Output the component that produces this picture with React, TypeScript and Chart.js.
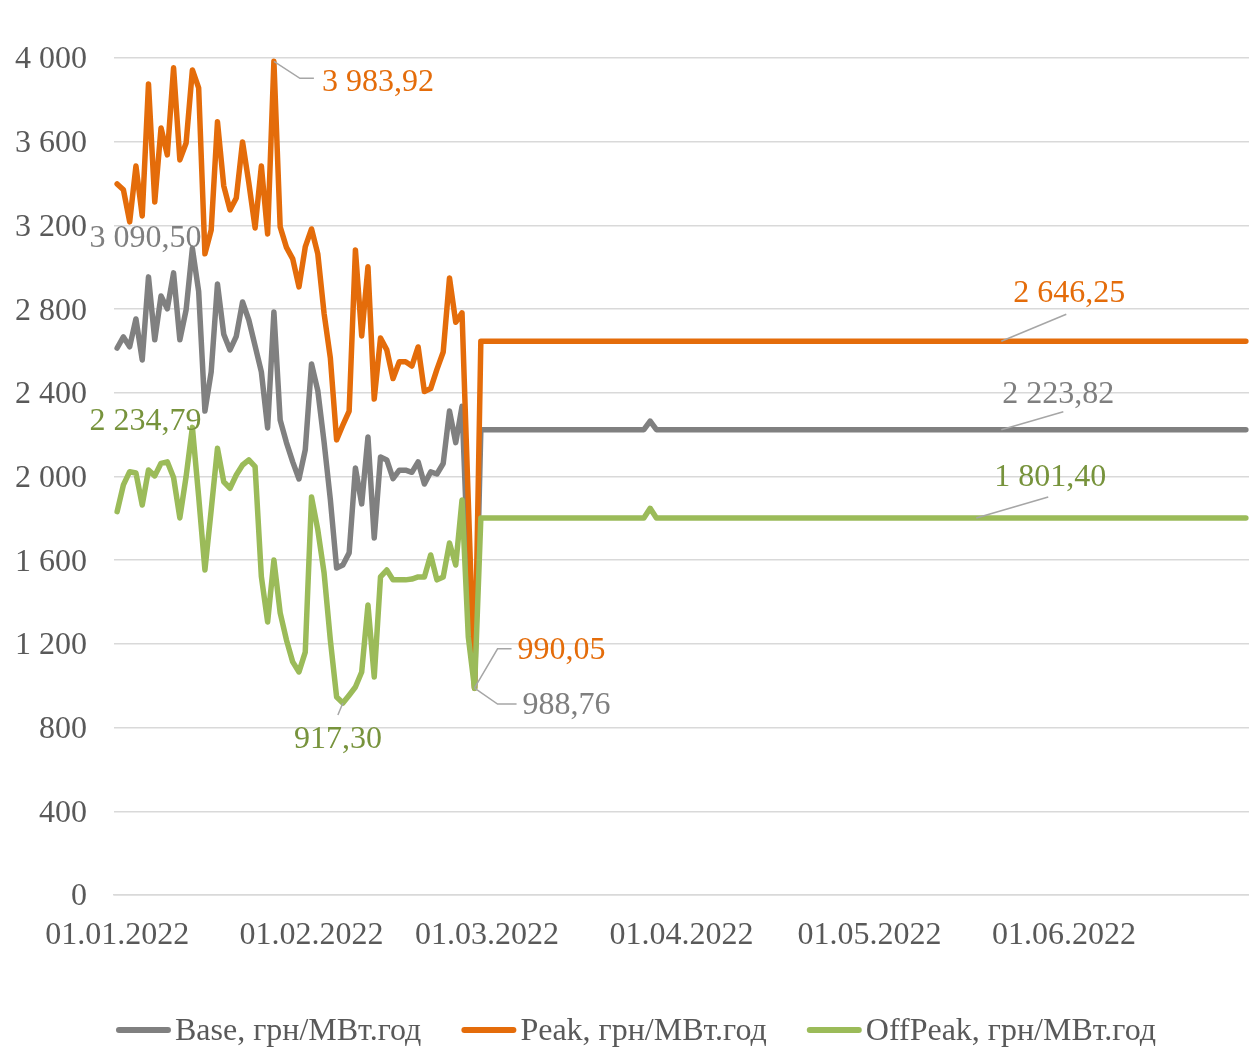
import React, { useEffect, useRef } from 'react';
import { Chart, registerables } from 'chart.js';

Chart.register(...registerables);

const FONT_FAMILY = '"Liberation Serif", "Times New Roman", Times, serif';
const FONT_SIZE = 32;

// ---- categories: one per day, 01.01.2022 .. 30.06.2022 ----
const firstDayUtc = Date.UTC(2022, 0, 1);
const dayCount = 181;
const dayLabels: string[] = [];
for (let i = 0; i < dayCount; i++) {
  const d = new Date(firstDayUtc + i * 86400000);
  dayLabels.push(
    `${String(d.getUTCDate()).padStart(2, '0')}.${String(d.getUTCMonth() + 1).padStart(2, '0')}.${d.getUTCFullYear()}`
  );
}

// ---- tick labels ----
const monthTickLabels = ['01.01.2022', '01.02.2022', '01.03.2022', '01.04.2022', '01.05.2022', '01.06.2022'];
const yTickValues = [0, 400, 800, 1200, 1600, 2000, 2400, 2800, 3200, 3600, 4000];

// ---- series: traded days (01.01 .. 27.02) ----
const baseHistory = [
  2614, 2667, 2620, 2753, 2557, 2954, 2653, 2863, 2801, 2973,
  2653, 2796, 3090.5, 2885, 2313, 2500, 2920, 2680, 2605, 2670,
  2834, 2748, 2624, 2500, 2232, 2786, 2270, 2162, 2070, 1988,
  2127, 2538, 2410, 2165, 1890, 1563, 1577, 1635, 2041, 1869,
  2189, 1706, 2093, 2079, 1990, 2030, 2030, 2020, 2070, 1964,
  2022, 2012, 2062, 2313, 2162, 2335, 1560, 988.76,
];
const peakHistory = [
  3398, 3370, 3217, 3484, 3245, 3876, 3312, 3666, 3537, 3953,
  3513, 3594, 3943, 3857, 3064, 3178, 3695, 3389, 3274, 3331,
  3599, 3403, 3188, 3484, 3159, 3983.92, 3193, 3095, 3040, 2906,
  3097, 3183, 3064, 2780, 2567, 2175, 2246, 2313, 3083, 2672,
  3002, 2370, 2662, 2605, 2468, 2548, 2548, 2528, 2619, 2406,
  2420, 2512, 2595, 2949, 2737, 2782, 1880, 990.05,
];
const offPeakHistory = [
  1832, 1960, 2023, 2017, 1864, 2031, 2003, 2063, 2070, 1995,
  1802, 2000, 2234.79, 1904, 1553, 1840, 2135, 1975, 1944, 2007,
  2055, 2079, 2047, 1521, 1305, 1601, 1348, 1219, 1114, 1066,
  1161, 1902, 1745, 1540, 1219, 946, 917.3, 955, 994, 1066,
  1386, 1042, 1520, 1553, 1506, 1506, 1506, 1510, 1520, 1520,
  1625, 1506, 1520, 1682, 1577, 1888, 1233, 987.47,
];

// ---- series: forward values (28.02 .. 30.06) ----
const baseForward = [
  2223.82, 2223.82, 2223.82, 2223.82, 2223.82, 2223.82, 2223.82, 2223.82, 2223.82, 2223.82,
  2223.82, 2223.82, 2223.82, 2223.82, 2223.82, 2223.82, 2223.82, 2223.82, 2223.82, 2223.82,
  2223.82, 2223.82, 2223.82, 2223.82, 2223.82, 2223.82, 2223.82, 2265, 2223.82, 2223.82,
  2223.82, 2223.82, 2223.82, 2223.82, 2223.82, 2223.82, 2223.82, 2223.82, 2223.82, 2223.82,
  2223.82, 2223.82, 2223.82, 2223.82, 2223.82, 2223.82, 2223.82, 2223.82, 2223.82, 2223.82,
  2223.82, 2223.82, 2223.82, 2223.82, 2223.82, 2223.82, 2223.82, 2223.82, 2223.82, 2223.82,
  2223.82, 2223.82, 2223.82, 2223.82, 2223.82, 2223.82, 2223.82, 2223.82, 2223.82, 2223.82,
  2223.82, 2223.82, 2223.82, 2223.82, 2223.82, 2223.82, 2223.82, 2223.82, 2223.82, 2223.82,
  2223.82, 2223.82, 2223.82, 2223.82, 2223.82, 2223.82, 2223.82, 2223.82, 2223.82, 2223.82,
  2223.82, 2223.82, 2223.82, 2223.82, 2223.82, 2223.82, 2223.82, 2223.82, 2223.82, 2223.82,
  2223.82, 2223.82, 2223.82, 2223.82, 2223.82, 2223.82, 2223.82, 2223.82, 2223.82, 2223.82,
  2223.82, 2223.82, 2223.82, 2223.82, 2223.82, 2223.82, 2223.82, 2223.82, 2223.82, 2223.82,
  2223.82, 2223.82, 2223.82,
];
const peakForward = [
  2646.25, 2646.25, 2646.25, 2646.25, 2646.25, 2646.25, 2646.25, 2646.25, 2646.25, 2646.25,
  2646.25, 2646.25, 2646.25, 2646.25, 2646.25, 2646.25, 2646.25, 2646.25, 2646.25, 2646.25,
  2646.25, 2646.25, 2646.25, 2646.25, 2646.25, 2646.25, 2646.25, 2646.25, 2646.25, 2646.25,
  2646.25, 2646.25, 2646.25, 2646.25, 2646.25, 2646.25, 2646.25, 2646.25, 2646.25, 2646.25,
  2646.25, 2646.25, 2646.25, 2646.25, 2646.25, 2646.25, 2646.25, 2646.25, 2646.25, 2646.25,
  2646.25, 2646.25, 2646.25, 2646.25, 2646.25, 2646.25, 2646.25, 2646.25, 2646.25, 2646.25,
  2646.25, 2646.25, 2646.25, 2646.25, 2646.25, 2646.25, 2646.25, 2646.25, 2646.25, 2646.25,
  2646.25, 2646.25, 2646.25, 2646.25, 2646.25, 2646.25, 2646.25, 2646.25, 2646.25, 2646.25,
  2646.25, 2646.25, 2646.25, 2646.25, 2646.25, 2646.25, 2646.25, 2646.25, 2646.25, 2646.25,
  2646.25, 2646.25, 2646.25, 2646.25, 2646.25, 2646.25, 2646.25, 2646.25, 2646.25, 2646.25,
  2646.25, 2646.25, 2646.25, 2646.25, 2646.25, 2646.25, 2646.25, 2646.25, 2646.25, 2646.25,
  2646.25, 2646.25, 2646.25, 2646.25, 2646.25, 2646.25, 2646.25, 2646.25, 2646.25, 2646.25,
  2646.25, 2646.25, 2646.25,
];
const offPeakForward = [
  1801.4, 1801.4, 1801.4, 1801.4, 1801.4, 1801.4, 1801.4, 1801.4, 1801.4, 1801.4,
  1801.4, 1801.4, 1801.4, 1801.4, 1801.4, 1801.4, 1801.4, 1801.4, 1801.4, 1801.4,
  1801.4, 1801.4, 1801.4, 1801.4, 1801.4, 1801.4, 1801.4, 1848, 1801.4, 1801.4,
  1801.4, 1801.4, 1801.4, 1801.4, 1801.4, 1801.4, 1801.4, 1801.4, 1801.4, 1801.4,
  1801.4, 1801.4, 1801.4, 1801.4, 1801.4, 1801.4, 1801.4, 1801.4, 1801.4, 1801.4,
  1801.4, 1801.4, 1801.4, 1801.4, 1801.4, 1801.4, 1801.4, 1801.4, 1801.4, 1801.4,
  1801.4, 1801.4, 1801.4, 1801.4, 1801.4, 1801.4, 1801.4, 1801.4, 1801.4, 1801.4,
  1801.4, 1801.4, 1801.4, 1801.4, 1801.4, 1801.4, 1801.4, 1801.4, 1801.4, 1801.4,
  1801.4, 1801.4, 1801.4, 1801.4, 1801.4, 1801.4, 1801.4, 1801.4, 1801.4, 1801.4,
  1801.4, 1801.4, 1801.4, 1801.4, 1801.4, 1801.4, 1801.4, 1801.4, 1801.4, 1801.4,
  1801.4, 1801.4, 1801.4, 1801.4, 1801.4, 1801.4, 1801.4, 1801.4, 1801.4, 1801.4,
  1801.4, 1801.4, 1801.4, 1801.4, 1801.4, 1801.4, 1801.4, 1801.4, 1801.4, 1801.4,
  1801.4, 1801.4, 1801.4,
];

const baseValues = [...baseHistory, ...baseForward];
const peakValues = [...peakHistory, ...peakForward];
const offPeakValues = [...offPeakHistory, ...offPeakForward];

const seriesNames = ['Base, грн/МВт.год', 'Peak, грн/МВт.год', 'OffPeak, грн/МВт.год'];

// ---- styles ----
const GRAY = '#808080';
const ORANGE = '#e46c0a';
const GREEN = '#9bbb59';
const GRAY_TEXT = '#7f7f7f';
const ORANGE_TEXT = '#e46c0a';
const GREEN_TEXT = '#77933c';
const AXIS_TEXT = '#595959';
const GRID = '#d9d9d9';
const LEADER = '#a6a6a6';

function fmtInt(v: number): string {
  return String(Math.round(v)).replace(/\B(?=(\d{3})+(?!\d))/g, ' ');
}
function fmtDec(v: number): string {
  const [i, d] = v.toFixed(2).split('.');
  return i.replace(/\B(?=(\d{3})+(?!\d))/g, ' ') + ',' + d;
}

type LabelSpec = {
  ds: number;
  idx: number;
  color: string;
  dx: number;
  dy: number;
  align: CanvasTextAlign;
  leader: number[][];
};

const dataLabelSpecs: LabelSpec[] = [
  { ds: 1, idx: 25, color: ORANGE_TEXT, dx: 48, dy: 21, align: 'left', leader: [[26, 17], [40, 17]] },
  { ds: 0, idx: 12, color: GRAY_TEXT, dx: 9, dy: -10, align: 'right', leader: [] },
  { ds: 2, idx: 12, color: GREEN_TEXT, dx: 9, dy: -6, align: 'right', leader: [] },
  { ds: 2, idx: 36, color: GREEN_TEXT, dx: -5, dy: 37, align: 'center', leader: [[-5, 12]] },
  { ds: 1, idx: 57, color: ORANGE_TEXT, dx: 43, dy: -37, align: 'left', leader: [[23, -39], [37, -39]] },
  { ds: 0, idx: 57, color: GRAY_TEXT, dx: 48, dy: 17, align: 'left', leader: [[23, 16], [42, 16]] },
  { ds: 1, idx: 141, color: ORANGE_TEXT, dx: 68, dy: -48, align: 'center', leader: [[65, -27]] },
  { ds: 0, idx: 141, color: GRAY_TEXT, dx: 57, dy: -35, align: 'center', leader: [[62, -18]] },
  { ds: 2, idx: 137, color: GREEN_TEXT, dx: 74, dy: -40, align: 'center', leader: [[72, -21]] },
];

const dataLabelPlugin = {
  id: 'excelDataLabels',
  afterDatasetsDraw(chart: any) {
    const ctx: CanvasRenderingContext2D = chart.ctx;
    ctx.save();
    ctx.font = `${FONT_SIZE}px ${FONT_FAMILY}`;
    ctx.textBaseline = 'middle';
    dataLabelSpecs.forEach((s) => {
      const el = chart.getDatasetMeta(s.ds).data[s.idx];
      if (!el) return;
      const x = el.x;
      const y = el.y;
      if (s.leader.length) {
        ctx.strokeStyle = LEADER;
        ctx.lineWidth = 1.5;
        ctx.beginPath();
        ctx.moveTo(x, y);
        s.leader.forEach((p) => ctx.lineTo(x + p[0], y + p[1]));
        ctx.stroke();
      }
      const value = chart.data.datasets[s.ds].data[s.idx] as number;
      ctx.fillStyle = s.color;
      ctx.textAlign = s.align;
      ctx.fillText(fmtDec(value), x + s.dx, y + s.dy);
    });
    ctx.restore();
  },
};

const legendPlugin = {
  id: 'excelLegend',
  afterDraw(chart: any) {
    const ctx: CanvasRenderingContext2D = chart.ctx;
    ctx.save();
    ctx.font = `${FONT_SIZE}px ${FONT_FAMILY}`;
    ctx.textBaseline = 'middle';
    ctx.textAlign = 'left';
    const sample = 55;
    const gapText = 4;
    const gapItem = 40;
    const items = chart.data.datasets.map((ds: any) => ({
      label: ds.label as string,
      color: ds.borderColor as string,
      w: ctx.measureText(ds.label).width,
    }));
    const total =
      items.reduce((a: number, it: any) => a + sample + gapText + it.w, 0) + gapItem * (items.length - 1);
    let x = 636 - total / 2;
    const y = 1030;
    items.forEach((it: any) => {
      ctx.strokeStyle = it.color;
      ctx.lineWidth = 6;
      ctx.lineCap = 'round';
      ctx.beginPath();
      ctx.moveTo(x + 3, y);
      ctx.lineTo(x + sample - 3, y);
      ctx.stroke();
      ctx.fillStyle = AXIS_TEXT;
      ctx.fillText(it.label, x + sample + gapText, y + 2);
      x += sample + gapText + it.w + gapItem;
    });
    ctx.restore();
  },
};

export default function App() {
  const canvasRef = useRef<HTMLCanvasElement | null>(null);

  useEffect(() => {
    if (!canvasRef.current) return;
    const font = { family: FONT_FAMILY, size: FONT_SIZE };
    const lineCommon = {
      borderWidth: 5.5,
      pointRadius: 0,
      pointHoverRadius: 0,
      tension: 0,
      fill: false,
      borderJoinStyle: 'round' as const,
      borderCapStyle: 'round' as const,
    };
    const chart = new Chart(canvasRef.current, {
      type: 'line',
      data: {
        labels: dayLabels,
        datasets: [
          { ...lineCommon, label: seriesNames[0], data: baseValues, borderColor: GRAY, backgroundColor: GRAY, order: 3 },
          { ...lineCommon, label: seriesNames[1], data: peakValues, borderColor: ORANGE, backgroundColor: ORANGE, order: 2 },
          { ...lineCommon, label: seriesNames[2], data: offPeakValues, borderColor: GREEN, backgroundColor: GREEN, order: 1 },
        ],
      },
      options: {
        animation: false,
        responsive: true,
        maintainAspectRatio: false,
        events: [],
        layout: { padding: { top: 58, right: 0, bottom: 0, left: 0 } },
        plugins: {
          legend: { display: false },
          tooltip: { enabled: false },
          title: { display: false },
        },
        scales: {
          x: {
            type: 'category',
            offset: true,
            grid: { display: false, drawTicks: false },
            border: { display: true, color: GRID, width: 1.5 },
            ticks: {
              autoSkip: false,
              maxRotation: 0,
              minRotation: 0,
              padding: 21,
              color: AXIS_TEXT,
              font,
              callback: (value: any) => {
                const l = dayLabels[value as number];
                return monthTickLabels.includes(l) ? l : '';
              },
            },
            afterFit: (scale: any) => {
              scale.height = 1048 - 895;
              scale.paddingLeft = 0;
              scale.paddingRight = 0;
            },
          },
          y: {
            min: 0,
            max: 4000,
            afterBuildTicks: (scale: any) => {
              scale.ticks = yTickValues.map((v) => ({ value: v }));
            },
            ticks: {
              padding: 27,
              labelOffset: 2,
              color: AXIS_TEXT,
              font,
              callback: (value: any) => fmtInt(Number(value)),
            },
            grid: { color: GRID, lineWidth: 1.5, drawTicks: false },
            border: { display: false },
            afterFit: (scale: any) => {
              scale.width = 114;
              scale.paddingTop = 0;
              scale.paddingBottom = 0;
            },
          },
        },
      },
      plugins: [dataLabelPlugin, legendPlugin],
    });
    return () => chart.destroy();
  }, []);

  return (
    <div style={{ position: 'fixed', left: 0, top: 0, width: 1249, height: 1048, overflow: 'hidden', background: '#fff' }}>
      <canvas ref={canvasRef} />
    </div>
  );
}
